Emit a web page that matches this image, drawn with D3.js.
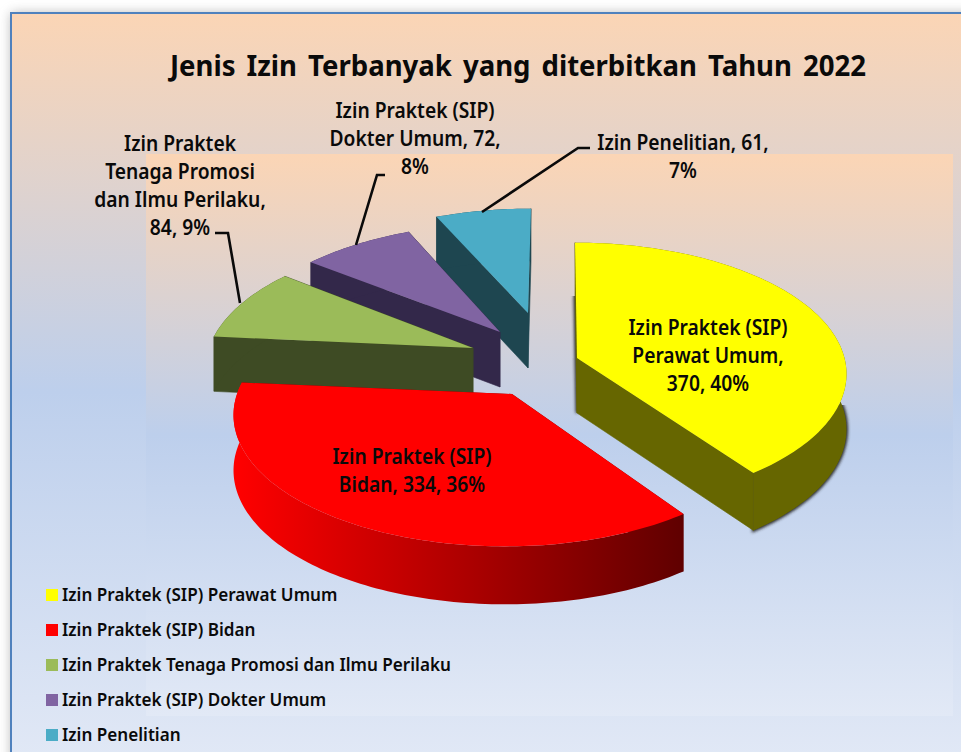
<!DOCTYPE html>
<html><head><meta charset="utf-8">
<script src="https://cdnjs.cloudflare.com/ajax/libs/d3/7.8.5/d3.min.js"></script>
<style>html,body{margin:0;padding:0;background:#fff;overflow:hidden}svg{display:block}</style>
</head><body><svg id="c" width="961" height="752"></svg>
<script>
const chartTitle = "Jenis Izin Terbanyak yang diterbitkan Tahun 2022";
const categories = ["Izin Praktek (SIP) Perawat Umum","Izin Praktek (SIP) Bidan","Izin Praktek Tenaga Promosi dan Ilmu Perilaku","Izin Praktek (SIP) Dokter Umum","Izin Penelitian"];
const values = [370,334,84,72,61];
const labelLines = [
  ["Izin Praktek (SIP)","Perawat Umum,","370, 40%"],
  ["Izin Praktek (SIP)","Bidan, 334, 36%"],
  ["Izin Praktek","Tenaga Promosi","dan Ilmu Perilaku,","84, 9%"],
  ["Izin Praktek (SIP)","Dokter Umum, 72,","8%"],
  ["Izin Penelitian, 61,","7%"]
];
const topColors = ["#ffff00","#ff0000","#9bbb59","#8064a2","#4bacc6"];
const sideColors = ["#666600","#660000","#3e4b24","#33284a","#1e4650"];

// layout (not data)
const apex = [[577,358],[512,394],[473,348],[500,332],[528,313]];
const arcShift = [[-2,-5],[-7,0],[4,0],[3,2],[3,6]];
const labelPos = [[708,327],[412,456],[180,143],[415,110],[683,142]];
const leaders = [null,null,[[215,233],[228,233],[240,303]],[[385,175],[377,175],[356,245]],[[590,148],[578,148],[482,212]]];
const RX=268, RY=128, P=0.16, D=55;

const svg = d3.select("#c");
const defs = svg.append("defs");
function grad(id,y1,y2){
  const g=defs.append("linearGradient").attr("id",id).attr("gradientUnits","userSpaceOnUse")
    .attr("x1",0).attr("x2",0).attr("y1",y1).attr("y2",y2);
  [[0,"#fbd5b5"],[.5,"#bdcfec"],[1,"#e2e9f6"]].forEach(s=>g.append("stop").attr("offset",s[0]).attr("stop-color",s[1]));
}
grad("bgO",13,770); grad("bgI",154,716);
const rg=defs.append("linearGradient").attr("id","rim").attr("gradientUnits","userSpaceOnUse").attr("x1",235).attr("x2",682).attr("y1",0).attr("y2",0);
[[0,"#ff0000"],[1,"#600000"]].forEach(s=>rg.append("stop").attr("offset",s[0]).attr("stop-color",s[1]));
const bl=defs.append("filter").attr("id","blur").attr("x","-10%").attr("y","-10%").attr("width","120%").attr("height","120%");
bl.append("feGaussianBlur").attr("stdDeviation",1.6);
const sh=defs.append("filter").attr("id","fshadow").attr("x","-5%").attr("y","-5%").attr("width","110%").attr("height","110%");
sh.append("feGaussianBlur").attr("stdDeviation",6);
const cp=defs.append("clipPath").attr("id","shClip");
cp.append("rect").attr("x",560).attr("y",296).attr("width",20).attr("height",125);
cp.append("rect").attr("x",560).attr("y",405).attr("width",320).attr("height",150);

svg.append("rect").attr("width",961).attr("height",752).attr("fill","#fff");
svg.append("rect").attr("x",11).attr("y",13).attr("width",1000).attr("height",800).attr("fill","#777").attr("opacity",.55).attr("filter","url(#fshadow)");
svg.append("rect").attr("x",11).attr("y",13).attr("width",1000).attr("height",800).attr("fill","url(#bgO)").attr("stroke","#4f81bd").attr("stroke-width",2);
svg.append("rect").attr("x",146).attr("y",154).attr("width",807).attr("height",562).attr("fill","url(#bgI)");

const pie = d3.pie().sort(null).value(d=>d);
const arcs = pie(values);
const project = (i,a,drop=0)=>{
  const u=Math.sin(a), v=-Math.cos(a), s=1/(1-P*v);
  return [apex[i][0]+arcShift[i][0]+RX*u*s, apex[i][1]+arcShift[i][1]+RY*v*s+drop*D*Math.pow(s,.3)];
};
const line = d3.line();
const samples = (a0,a1)=>{const n=Math.max(2,Math.ceil((a1-a0)/0.02));return d3.range(n+1).map(k=>a0+(a1-a0)*k/n);};

const order=[4,3,2,1,0];
order.forEach(i=>{
  const d=arcs[i], A=samples(d.startAngle,d.endAngle);
  const g=svg.append("g");
  const topPts=[apex[i],...A.map(a=>project(i,a))];
  const lowApex=[apex[i][0],apex[i][1]+D];
  const cut=a=>[apex[i],project(i,a),project(i,a,1),lowApex];
  const rimPts=[...A.map(a=>project(i,a)),...A.slice().reverse().map(a=>project(i,a,1))];
  if(i===0){
    const silhouette=[...rimPts,lowApex,apex[i]];
    g.append("path").attr("d",line(silhouette)+"Z").attr("fill","#2a2a2a").attr("stroke","#2a2a2a").attr("stroke-width",3)
      .attr("filter","url(#blur)").attr("clip-path","url(#shClip)");
  }
  [d.endAngle,d.startAngle].forEach(a=>g.append("path").attr("d",line(cut(a))+"Z").attr("fill",sideColors[i]).attr("stroke",i===1?"none":sideColors[i]).attr("stroke-width",.6));
  g.append("path").attr("d",line(rimPts)+"Z").attr("fill",i===1?"url(#rim)":sideColors[i]);
  g.append("path").attr("d",line(topPts)+"Z").attr("fill",topColors[i]);
});

const FONT='"Noto Sans", sans-serif';
function fit(t,f){t.each(function(){const n=this.getComputedTextLength();d3.select(this).attr("textLength",n*f).attr("lengthAdjust","spacingAndGlyphs");});}

svg.append("text").attr("x",518).attr("y",76).attr("text-anchor","middle").attr("font-family",FONT).attr("font-weight",700).attr("font-size",29).attr("fill","#0a0a0a").attr("word-spacing",4)
  .text(chartTitle).call(t=>t.attr("textLength",696).attr("lengthAdjust","spacingAndGlyphs"));

leaders.forEach(l=>{ if(l) svg.append("path").attr("d",line(l)).attr("fill","none").attr("stroke","#0a0a0a").attr("stroke-width",2.6); });

labelLines.forEach((lines,i)=>{
  lines.forEach((s,k)=>{
    svg.append("text").attr("x",labelPos[i][0]).attr("y",labelPos[i][1]+k*28+8).attr("text-anchor","middle")
      .attr("font-family",FONT).attr("font-weight",600).attr("font-size",22).attr("fill","#0a0a0a").text(s).call(fit,.875);
  });
});

const legendY=d3.scalePoint().domain(categories).range([595,735]);
categories.forEach((c,i)=>{
  const y=legendY(c);
  svg.append("rect").attr("x",46).attr("y",y-6).attr("width",12).attr("height",12).attr("fill",topColors[i]);
  svg.append("text").attr("x",62).attr("y",y+6).attr("font-family",FONT).attr("font-weight",600).attr("font-size",18).attr("fill","#0a0a0a").text(c).call(fit,.95);
});
</script></body></html>
